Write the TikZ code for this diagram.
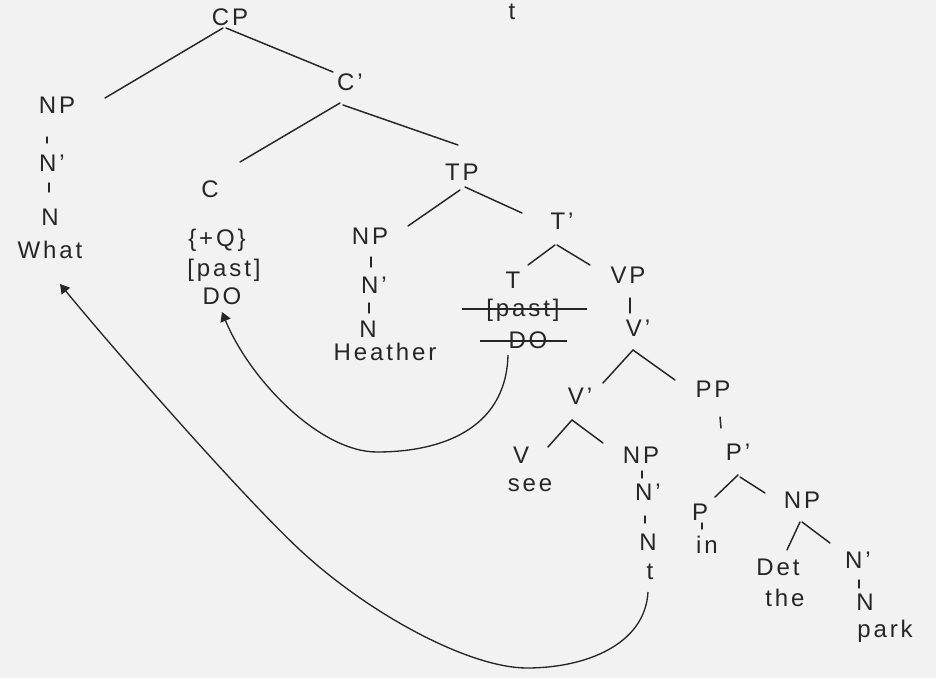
\documentclass[tikz,border=0pt]{standalone}
\usepackage{fontspec}
\setmainfont{Liberation Sans}[LetterSpace=12]
\usetikzlibrary{arrows.meta,calc}
\definecolor{paper}{HTML}{F2F2F2}
\definecolor{ink}{HTML}{262626}
\newcommand\edg[4]{\draw[br] ($(#1)+(#2)$) -- ($(#3)+(#4)$);}
\begin{document}
\begin{tikzpicture}[x=0.75pt,y=-0.75pt,
  lab/.style={text=ink,font=\fontsize{18}{21}\selectfont,inner sep=0.5pt},
  br/.style={draw=ink,line width=1.1pt,line cap=round},
  strike/.style={draw=ink,line width=1.2pt},
  mv/.style={draw=ink,line width=1pt,-{Triangle[length=7pt,width=8pt]}}]
\fill[paper] (0,0) rectangle (936,678);
\useasboundingbox (0,0) rectangle (936,678);

% ---------- nodes ----------
\node[lab] (ttop) at (512,12) {t};
\node[lab] (cp) at (230,17) {CP};
\node[lab] (np1) at (57,105) {NP};
\node[lab] (n1p) at (52,163) {N’};
\node[lab] (n1) at (50,217) {N};
\node[lab] (what) at (50,250) {What};
\node[lab] (c1) at (350,82) {C’};
\node[lab] (c0) at (210,189) {C};
\node[lab] (q) at (217,240) {\{+Q\}};
\node[lab] (past1) at (224,270) {[past]};
\node[lab] (do1) at (222,296) {DO};
\node[lab] (tp) at (462,172) {TP};
\node[lab] (nph) at (370,236) {NP};
\node[lab] (nhp) at (374,285) {N’};
\node[lab] (nh) at (368,329) {N};
\node[lab] (heather) at (385,352) {Heather};
\node[lab] (t1) at (562,221) {T’};
\node[lab] (t0) at (513,280) {T};
\node[lab] (past2) at (523,310) {[past]};
\node[lab] (do2) at (528,340) {DO};
\node[lab] (vp) at (628,275) {VP};
\node[lab] (vbp) at (638,328) {V’};
\node[lab] (vsp) at (580,396) {V’};
\node[lab] (pp) at (713,389) {PP};
\node[lab] (v0) at (521,455) {V};
\node[lab] (see) at (530,485) {see};
\node[lab] (npo) at (641,455) {NP};
\node[lab] (nop) at (648,492) {N’};
\node[lab] (no) at (648,542) {N};
\node[lab] (tr) at (650,572) {t};
\node[lab] (pb) at (738,452) {P’};
\node[lab] (p0) at (700,512) {P};
\node[lab] (inn) at (707,545) {in};
\node[lab] (npp) at (802,500) {NP};
\node[lab] (det) at (778,567) {Det};
\node[lab] (the) at (785,598) {the};
\node[lab] (npb) at (858,560) {N’};
\node[lab] (np0) at (865,602) {N};
\node[lab] (park) at (885,631) {park};

% ---------- branches ----------
\edg{cp}{-7,11}{np1}{48,-7}
\edg{cp}{-4,11}{c1}{-17,-10}
\edg{c1}{-10,21}{c0}{30,-27}
\edg{c1}{-7,23}{tp}{-4,-27}
\edg{tp}{-2,18}{nph}{38,-10}
\edg{tp}{3,15}{t1}{-40,-8}
\edg{t1}{-7,24}{t0}{15,-15}
\edg{t1}{-5,24}{vp}{-38,-10}
\edg{vbp}{-5,22}{vsp}{23,-13}
\edg{vbp}{-5,22}{pp}{-38,-9}
\edg{vsp}{-8,24}{v0}{27,-8}
\edg{vsp}{-8,24}{npo}{-38,-12}
\edg{pb}{0,23}{p0}{15,-15}
\edg{pb}{2,25}{npp}{-37,-7}
\edg{npp}{-2,22}{det}{9,-17}
\edg{npp}{0,22}{npb}{-28,-17}

% unary ticks
\edg{np1}{-10,32}{n1p}{-5,-20}
\edg{n1p}{-3,20}{n1}{-1,-25}
\edg{nph}{1,21}{nhp}{-3,-18}
\edg{nhp}{-5,18}{nh}{1,-16}
\edg{vp}{2,23}{vbp}{-8,-15}
\edg{npo}{1,16}{nop}{-6,-14}
\edg{nop}{-3,24}{no}{-3,-19}
\edg{pp}{7,28}{pb}{-17,-24}
\edg{p0}{2,11}{inn}{-5,-16}
\edg{npb}{1,20}{np0}{-6,-14}

% strike-through of the lowered T features
\draw[strike] ($(past2)+(-61,-1)$) -- ($(past2)+(64,-1)$);
\draw[strike] ($(do2)+(-48,1)$) -- ($(do2)+(39,1)$);

% ---------- movement arrows ----------
\coordinate (b1) at (377,452);
\draw[mv] ($(do2)+(-20,15)$) .. controls (506,430) and (440,452) .. (b1)
          .. controls (320,452) and (250,380) .. ($(do1)+(0,16)$);

\coordinate (b2) at (527,668);
\coordinate (m2) at (300,550);
\draw[mv] ($(tr)+(-2,20)$) .. controls (645,645) and (585,668) .. (b2)
          .. controls (470,668) and (370,615) .. (m2)
          .. controls (240,494) and (110,345) .. ($(what)+(10,34)$);
\end{tikzpicture}
\end{document}
